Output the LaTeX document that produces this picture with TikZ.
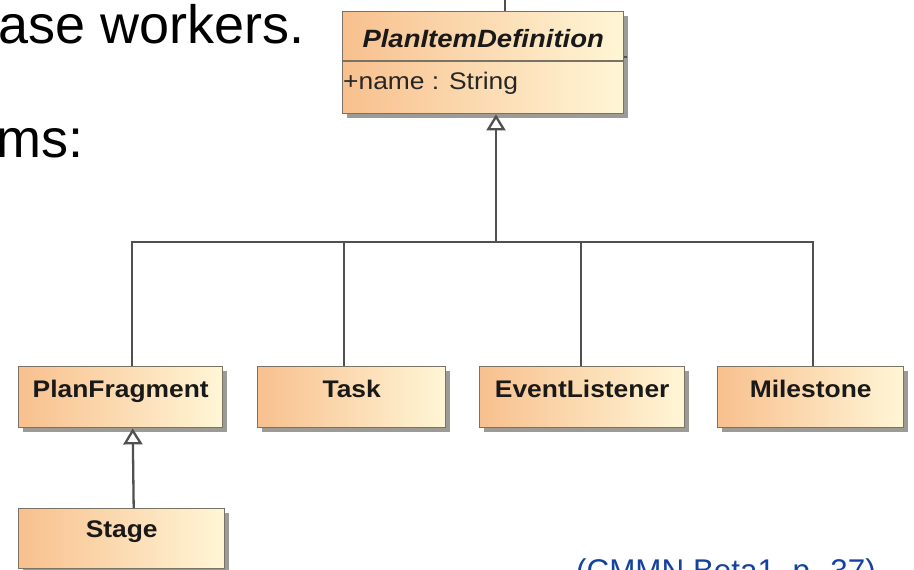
\documentclass[tikz,border=0pt]{standalone}
\usepackage{fontspec}
\setmainfont{Liberation Sans}
\newfontfamily\boxfont[FakeStretch=1.1]{Liberation Sans}
\usetikzlibrary{shadows,arrows.meta}
\definecolor{peach}{RGB}{248,192,142}
\definecolor{cream}{RGB}{255,246,214}
\definecolor{boxline}{RGB}{120,115,100}
\definecolor{shadowgray}{RGB}{140,138,130}
\definecolor{connline}{RGB}{80,80,80}
\definecolor{citeblue}{RGB}{20,66,160}
\tikzset{
  cls/.style={draw=boxline, line width=1.4pt, left color=peach, right color=cream,
    drop shadow={shadow xshift=4pt, shadow yshift=-4pt, fill=shadowgray, opacity=0.85},
    inner sep=0pt, anchor=north west, rectangle},
  clstext/.style={font=\boxfont\bfseries\fontsize{24}{28}\selectfont, anchor=base, inner sep=0pt, text=black!90},
  conn/.style={draw=connline, line width=2.3pt},
  gen/.style={conn, -{Triangle[open, length=16pt, width=19pt, fill=white]}},
  slide/.style={font=\fontsize{54}{60}\selectfont, anchor=base west, inner sep=0pt},
}
\begin{document}
\begin{tikzpicture}[x=1pt,y=-1pt]
\useasboundingbox (0,0) rectangle (914,570);
% slide text
\node[slide] (t1) at (-2,43) {ase workers.};
\node[slide] (t2) at (-4,157) {ms:};
\node[font=\fontsize{31.4}{36}\selectfont, text=citeblue, anchor=base west, inner sep=0pt] (cite) at (576,581) {(CMMN Beta1, p. 37)};
% classes
\node[cls, minimum width=281pt, minimum height=102pt] (pid) at (342,11) {};
\node[cls, minimum width=204pt, minimum height=61pt] (pf) at (18,366) {};
\node[cls, minimum width=188pt, minimum height=61pt] (task) at (257,366) {};
\node[cls, minimum width=205pt, minimum height=61pt] (el) at (479,366) {};
\node[cls, minimum width=186pt, minimum height=61pt] (ms) at (717,366) {};
\node[cls, minimum width=206pt, minimum height=60pt] (stage) at (18,508) {};
% header separator
\coordinate (sep) at (0,61);
\draw[draw=boxline, line width=1.4pt] (sep -| pid.west) -- (sep -| pid.east);
% texts
\node[clstext, font=\boxfont\bfseries\itshape\fontsize{25}{28}\selectfont] (pidt) at ([yshift=-36pt]pid.north) {PlanItemDefinition};
\node[font=\boxfont\fontsize{24}{28}\selectfont, anchor=base west, inner sep=0pt, text=black!85] (pida) at ([xshift=1pt,yshift=-78pt]pid.north west) {+name : String};
\node[clstext] (pft) at ([yshift=-31pt]pf.north) {PlanFragment};
\node[clstext] (taskt) at ([yshift=-31pt]task.north) {Task};
\node[clstext] (elt) at ([yshift=-31pt]el.north) {EventListener};
\node[clstext] (mst) at ([yshift=-31pt]ms.north) {Milestone};
\node[clstext] (staget) at ([yshift=-29pt]stage.north) {Stage};
% connectors
\coordinate (j) at (496,242);
\draw[gen] (j) -- (j |- pid.south);
\draw[conn] (j) -| ([xshift=11pt]pf.north);
\draw[conn] (j) -| ([xshift=-8pt]task.north);
\draw[conn] (j) -| ([xshift=-1.5pt]el.north);
\draw[conn] (j) -| ([xshift=2pt]ms.north);
\draw[gen] ([xshift=12pt]stage.north) -- ([xshift=12pt]pf.south);
% stubs of connectors leaving the picture
\coordinate (tickt) at (505,0);
\draw[conn, line width=1.5pt] (tickt) -- (tickt |- pid.north);
\coordinate (stubr) at (627,57);
\draw[conn, line width=2.5pt] (stubr) -- (stubr -| pid.east);
\end{tikzpicture}
\end{document}
